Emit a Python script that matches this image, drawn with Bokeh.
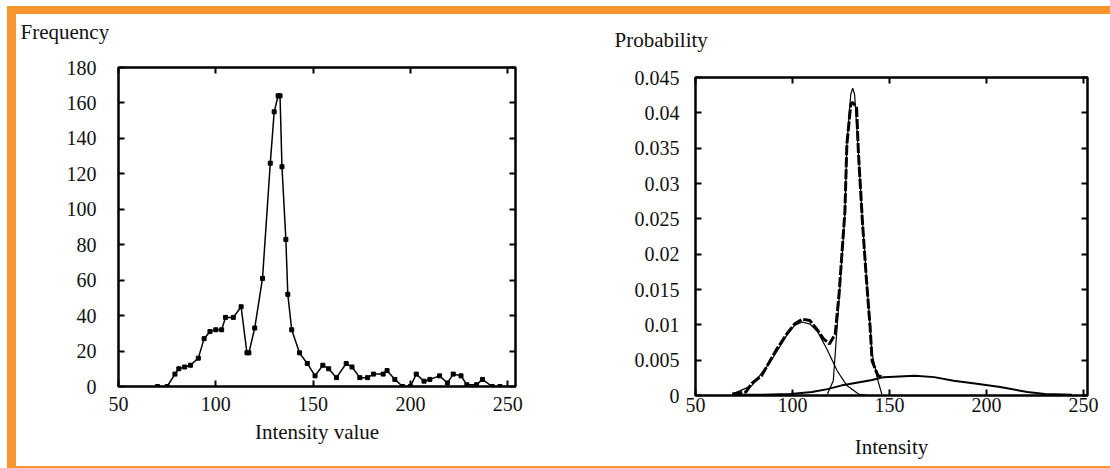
from bokeh.plotting import figure
from bokeh.models import LinearAxis, FixedTicker, CustomJSTickFormatter, Div
from bokeh.embed import file_html
from bokeh.resources import INLINE

# ---------------- data ----------------
# Left: intensity histogram
hist_x = [70, 75, 79, 81, 84, 87, 91, 94, 97, 100,
          103, 105, 109, 113, 116, 117, 120, 124, 128, 130,
          132, 133, 134, 136, 137, 139, 143, 147, 151, 155,
          158, 162, 167, 170, 174, 178, 181, 186, 188, 192,
          196, 200, 203, 207, 210, 215, 219, 222, 226, 229,
          234, 237, 242, 246]
hist_freq = [0, 0, 7, 10, 11, 12, 16, 27, 31, 32,
             32, 39, 39, 45, 19, 19, 33, 61, 126, 155,
             164, 164, 124, 83, 52, 32, 19, 13, 6, 12,
             10, 5, 13, 11, 5, 5, 7, 7, 9, 4,
             0, 0, 7, 3, 4, 6, 2, 7, 6, 1,
             1, 4, 0, 0]
left_xticks = [50, 100, 150, 200, 250]
left_yticks = [0, 20, 40, 60, 80, 100, 120, 140, 160, 180]

# Right: mixture (thick) and Gaussian components (thin)
mix_x = [69, 76, 79, 84, 88, 92, 97, 101, 105, 109, 113, 116, 119, 122, 124,
         127, 128, 130, 131, 133, 134, 136, 138, 140, 141, 144, 147]
mix_p = [0.0002, 0.0005, 0.0017, 0.0028, 0.0047, 0.0066, 0.0087, 0.0101, 0.0108,
         0.0106, 0.0092, 0.0080, 0.0073, 0.0087, 0.0144, 0.0261, 0.0355, 0.0412,
         0.0415, 0.0407, 0.0341, 0.0247, 0.0167, 0.0096, 0.0049, 0.0028, 0.0026]
g1_x = [69, 79, 88, 97, 101, 105, 109, 113, 118, 123, 128, 134, 139]
g1_p = [0.0002, 0.0014, 0.0045, 0.0085, 0.0099, 0.0104, 0.0101, 0.0090, 0.0064,
        0.0035, 0.0014, 0.0002, 0.0]
g2_x = [118, 121, 122, 124, 127, 128, 130, 131, 132, 134, 136, 139, 141, 144, 146]
g2_p = [0.0002, 0.0021, 0.0059, 0.0137, 0.0256, 0.0355, 0.0426, 0.0435, 0.0426,
        0.0341, 0.0247, 0.0134, 0.0059, 0.0021, 0.0002]
g3_x = [69, 83, 99, 110, 118, 125, 133, 141, 147, 155, 163, 173, 183, 194, 207,
        221, 230, 244]
g3_p = [0.0001, 0.0001, 0.0002, 0.0005, 0.0009, 0.0014, 0.0018, 0.0022, 0.0026,
        0.0027, 0.0028, 0.0026, 0.0021, 0.0017, 0.0012, 0.0005, 0.0002, 0.0001]
right_xticks = [50, 100, 150, 200, 250]
right_yticks = [0, 0.005, 0.01, 0.015, 0.02, 0.025, 0.03, 0.035, 0.04, 0.045]

FONT = "Liberation Serif"
ORANGE = "#F7962F"
blank = CustomJSTickFormatter(code="return '';")


def style_axes(p, xticks, yticks, yfmt=None, xlabel="", lab_standoff=8,
               tick_standoff=10):
    top = LinearAxis(formatter=blank)
    right = LinearAxis(formatter=blank)
    p.add_layout(top, "above")
    p.add_layout(right, "right")
    for ax in p.xaxis + p.yaxis:
        ax.axis_line_color = None
        ax.major_tick_in = 6
        ax.major_tick_out = 0
        ax.major_tick_line_width = 2
        ax.major_tick_line_color = "black"
        ax.minor_tick_line_color = None
        ax.major_label_text_font = FONT
        ax.major_label_text_font_size = "20px"
        ax.major_label_text_color = "#111111"
    for ax in p.xaxis:
        ax.ticker = FixedTicker(ticks=xticks)
    for ax in p.yaxis:
        ax.ticker = FixedTicker(ticks=yticks)
    if yfmt is not None:
        p.left[0].formatter = yfmt
    for ax in (top, right):
        ax.major_label_standoff = 0
        ax.axis_label_standoff = 0
    bx = p.below[0]
    bx.axis_label = xlabel
    bx.axis_label_text_font = FONT
    bx.axis_label_text_font_style = "normal"
    bx.axis_label_text_font_size = "21px"
    bx.axis_label_text_color = "#111111"
    bx.axis_label_standoff = lab_standoff
    bx.major_label_standoff = tick_standoff


def common(p, title, off, standoff):
    p.title.text = title
    p.title.align = "left"
    p.title.offset = off
    p.title.standoff = standoff
    p.title.text_font = FONT
    p.title.text_font_style = "normal"
    p.title.text_font_size = "21px"
    p.title.text_color = "#111111"
    p.outline_line_color = "black"
    p.outline_line_width = 2.5
    p.xgrid.visible = False
    p.ygrid.visible = False
    p.background_fill_color = "white"
    p.border_fill_color = None


# ---------------- left figure ----------------
p1 = figure(width=545, height=473, x_range=(50, 254), y_range=(0, 180),
            output_backend="svg", toolbar_location=None,
            min_border_left=102, min_border_right=46,
            min_border_top=74, min_border_bottom=80,
            styles={"position": "absolute", "left": "16px", "top": "-7px"})
common(p1, "Frequency", -98, 48)
style_axes(p1, left_xticks, left_yticks, xlabel="Intensity value",
           lab_standoff=6, tick_standoff=10)
p1.yaxis[0].major_label_standoff = 22
p1.line(hist_x, hist_freq, line_color="black", line_width=1.5)
p1.scatter(hist_x, hist_freq, marker="square", size=4, color="black")

# ---------------- right figure ----------------
fmt = CustomJSTickFormatter(code="return String(Number(tick.toPrecision(6)));")
p2 = figure(width=549, height=466, x_range=(50, 252), y_range=(0, 0.045),
            output_backend="svg", toolbar_location=None,
            min_border_left=134, min_border_right=23,
            min_border_top=77, min_border_bottom=71,
            styles={"position": "absolute", "left": "561px", "top": "0px"})
common(p2, "Probability", -81, 51)
style_axes(p2, right_xticks, right_yticks, yfmt=fmt, xlabel="Intensity",
           lab_standoff=20, tick_standoff=2)
p2.yaxis[0].major_label_standoff = 16
p2.line(g1_x, g1_p, line_color="black", line_width=1.2)
p2.line(g2_x, g2_p, line_color="black", line_width=1.2)
p2.line(g3_x, g3_p, line_color="black", line_width=2)
p2.line(mix_x, mix_p, line_color="black", line_width=3, line_dash="10 2")

# orange frame around the two panels
frame = Div(text="", margin=0, styles={
    "position": "absolute", "left": "7px", "top": "6px",
    "width": "1103px", "height": "462px", "box-sizing": "border-box",
    "border-left": "9px solid " + ORANGE,
    "border-top": "8px solid " + ORANGE,
    "border-bottom": "2px solid " + ORANGE,
})

open("out.html", "w").write(file_html([frame, p1, p2], INLINE))
